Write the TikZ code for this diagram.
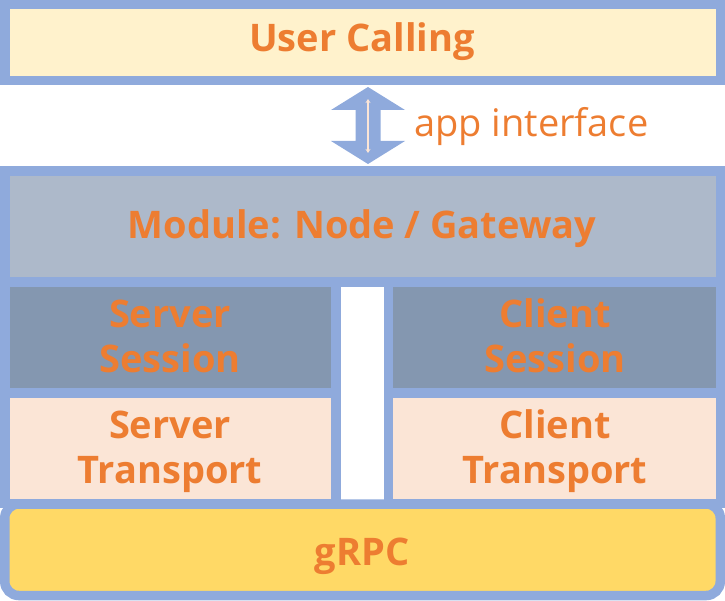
\documentclass[tikz,border=0pt]{standalone}
\usepackage{fontspec}
\setmainfont{Open Sans}
\usetikzlibrary{arrows.meta}
\definecolor{bordc}{HTML}{8FAADC}
\definecolor{userc}{HTML}{FFF2CC}
\definecolor{modc}{HTML}{ADB9CA}
\definecolor{sessc}{HTML}{8497B0}
\definecolor{transc}{HTML}{FBE5D6}
\definecolor{grpcc}{HTML}{FFD966}
\definecolor{txtc}{HTML}{ED7D31}
\tikzset{
  layer/.style={draw=bordc, line width=9.5pt},
  lbl/.style={text=txtc, font=\fontsize{38}{45}\selectfont\bfseries, align=center, inner sep=0pt, anchor=base},
}
\begin{document}
\begin{tikzpicture}[x=1pt,y=-1pt]
\useasboundingbox (0,0) rectangle (725,601);
% layers
\draw[layer, fill=userc] (4.75,4.75) rectangle (720.25,80.5);
\draw[layer, fill=modc] (4.75,171) rectangle (720.25,282);
\draw[layer, fill=sessc] (4.75,282) rectangle (336,393);
\draw[layer, fill=transc] (4.75,393) rectangle (336,503.5);
\draw[layer, fill=sessc] (388.5,282) rectangle (720.25,393);
\draw[layer, fill=transc] (388.5,393) rectangle (720.25,503.5);
\draw[layer, fill=grpcc, rounded corners=14pt] (4.75,504) rectangle (720.25,595.5);
% labels (anchor base = baseline of the last line)
\node[lbl] (user) at (362,52) {User Calling};
\node[lbl] (module) at (362,239) {Module: Node / Gateway};
\node[lbl] (ssess) at (170,372) {Server\\Session};
\node[lbl] (strans) at (170,483) {Server\\Transport};
\node[lbl] (csess) at (555,372) {Client\\Session};
\node[lbl] (ctrans) at (555,483) {Client\\Transport};
\node[lbl] (grpc) at (362,565) {gRPC};
% interface arrow
\fill[bordc] (368,87) -- (405,110) -- (380.5,110) -- (380.5,141) -- (405,141) -- (368,164)
  -- (331,141) -- (355.5,141) -- (355.5,110) -- (331,110) -- cycle;
\coordinate (ia) at (368,99);
\coordinate (ib) at (368,153);
\draw[transc, line width=1.8pt, {Stealth[length=4pt,width=5pt]}-{Stealth[length=4pt,width=5pt]}] (ia) -- (ib);
\node[text=txtc, font=\fontsize{38}{45}\selectfont, anchor=base west, inner sep=0pt] (app) at (414,137) {app interface};
\end{tikzpicture}
\end{document}
